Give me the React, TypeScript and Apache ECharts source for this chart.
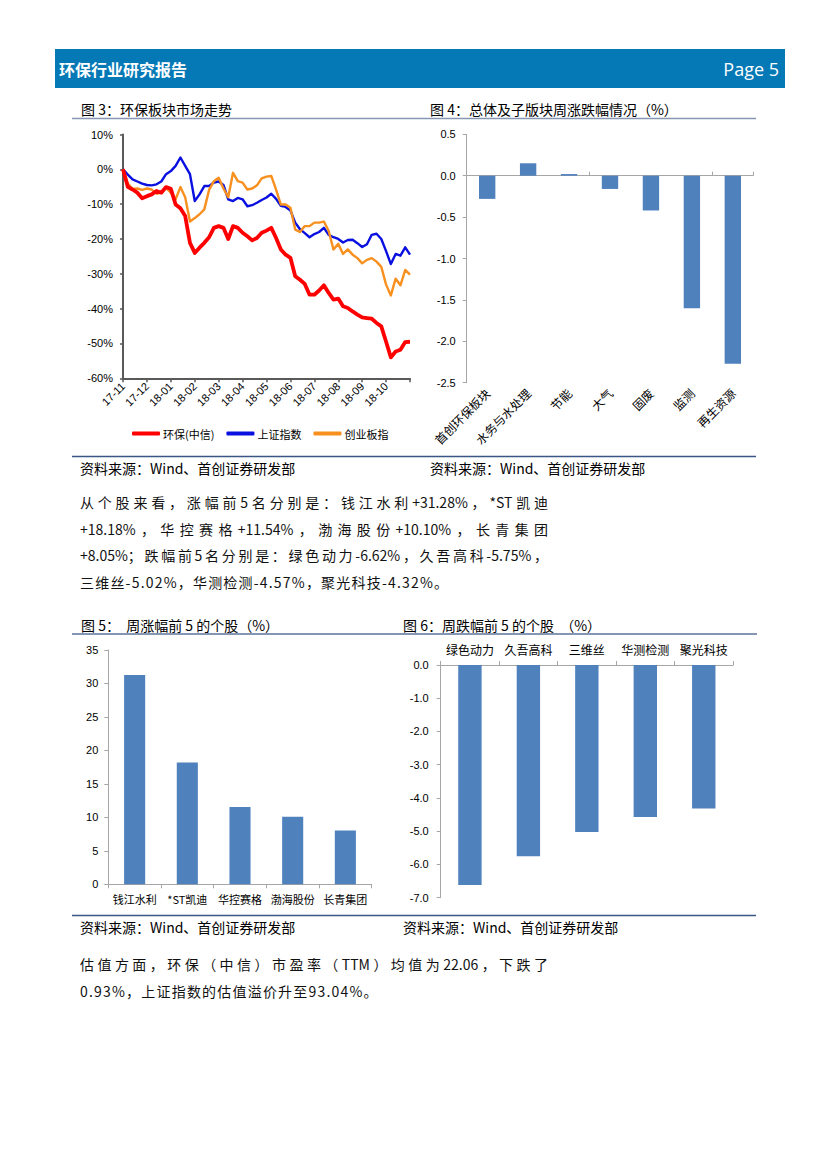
import React, { useEffect, useRef } from "react";
import * as echarts from "echarts";

// ---------- Figure 3: market trend (cumulative %, sampled ~every 6 days) ----------
const monthLabels = ["17-11", "17-12", "18-01", "18-02", "18-03", "18-04", "18-05", "18-06", "18-07", "18-08", "18-09", "18-10", "18-11"];
const sampleDays = ["01", "07", "13", "19", "25"];
const trendDates: string[] = [];
monthLabels.forEach((m, i) => {
  if (i < monthLabels.length - 1) sampleDays.forEach((d) => trendDates.push(`${m}-${d}`));
  else trendDates.push(`${m}-01`);
});

const hbName = "环保(中信)";
const szName = "上证指数";
const cybName = "创业板指";

const hbValues = [
  0, -5.0, -5.8, -6.7, -8.3, -7.7, -7.2, -6.2, -6.7, -5.1,
  -5.6, -10.1, -11.2, -13.4, -21.1, -24.0, -22.5, -21.1, -19.5, -16.8,
  -16.3, -16.8, -20.0, -16.3, -16.8, -18.2, -19.2, -20.4, -19.7, -18.2,
  -17.6, -16.8, -19.7, -23.0, -24.5, -25.4, -30.7, -31.7, -32.9, -36.0,
  -36.0, -34.8, -33.3, -35.5, -37.4, -37.1, -39.3, -39.8, -40.8, -41.7,
  -42.5, -42.7, -42.9, -44.1, -45.1, -49.5, -54.0, -52.3, -51.8, -49.6,
  -49.5,
];
const szValues = [
  0, -1.5, -2.9, -3.5, -4.1, -4.5, -4.6, -4.3, -3.5, -1.4,
  -0.5, 1.0, 3.4, 1.0, -1.4, -9.1, -7.2, -4.8, -4.8, -3.8,
  -3.5, -4.5, -8.6, -9.1, -8.2, -8.6, -10.6, -10.3, -9.6, -8.8,
  -8.1, -7.0, -8.5, -10.5, -10.8, -11.8, -15.3, -17.2, -18.3, -19.5,
  -18.6, -18.0, -16.8, -18.8, -19.5, -20.0, -21.0, -20.3, -20.2, -21.2,
  -22.3, -21.5, -18.8, -18.5, -20.0, -23.5, -27.2, -24.3, -24.8, -22.4,
  -24.5,
];
const cybValues = [
  0, -4.1, -5.6, -5.5, -5.9, -5.5, -5.8, -7.0, -6.7, -5.3,
  -6.7, -8.6, -5.1, -8.0, -15.0, -14.0, -12.9, -11.5, -5.9, -3.4,
  -2.4, -5.5, -8.0, -1.0, -3.4, -3.8, -5.8, -5.5, -4.6, -2.6,
  -2.1, -1.9, -5.8, -10.1, -10.1, -11.0, -17.3, -18.0, -16.3, -16.3,
  -15.3, -15.3, -15.0, -17.7, -23.0, -21.4, -24.3, -23.0, -24.5, -25.5,
  -27.0, -26.0, -25.5, -26.5, -28.0, -33.1, -36.2, -31.4, -33.3, -28.9,
  -30.2,
];

// ---------- Figure 4: weekly change by sub-sector (%) ----------
const sectorNames = ["首创环保板块", "水务与水处理", "节能", "大气", "固废", "监测", "再生资源"];
const sectorChange = [-0.28, 0.15, 0.02, -0.16, -0.42, -1.6, -2.27];

// ---------- Figure 5: top 5 gainers (%) ----------
const gainers = ["钱江水利", "*ST凯迪", "华控赛格", "渤海股份", "长青集团"];
const gainValues = [31.28, 18.18, 11.54, 10.1, 8.05];

// ---------- Figure 6: top 5 losers (%) ----------
const losers = ["绿色动力", "久吾高科", "三维丝", "华测检测", "聚光科技"];
const lossValues = [-6.62, -5.75, -5.02, -4.57, -4.32];

// ---------- Page texts ----------
const headerTitle = "环保行业研究报告";
const pageLabel = "Page 5";
const fig3Title = "图 3：环保板块市场走势";
const fig4Title = "图 4：总体及子版块周涨跌幅情况（%）";
const fig5Title = "图 5：  周涨幅前 5 的个股（%）";
const fig6Title = "图 6：周跌幅前 5 的个股  （%）";
const sourceText = "资料来源：Wind、首创证券研发部";

const para1Lines = [
  "从个股来看，涨幅前5名分别是：钱江水利+31.28%，*ST凯迪",
  "+18.18%，华控赛格+11.54%，渤海股份+10.10%，长青集团",
  "+8.05%；跌幅前5名分别是：绿色动力-6.62%，久吾高科-5.75%，",
  "三维丝-5.02%，华测检测-4.57%，聚光科技-4.32%。",
];
const para2Lines = [
  "估值方面，环保（中信）市盈率（TTM）均值为22.06，下跌了",
  "0.93%，上证指数的估值溢价升至93.04%。",
];

const FONT_CJK = '"Noto Sans CJK SC", "Noto Sans", sans-serif';
const FONT_NUM = '"Liberation Sans", Arial, sans-serif';
const BAR_COLOR = "#4F81BD";
const AXIS_GRAY = "#A6A6A6";
const AXIS_DARK = "#595959";

function txt(x: number, y: number, text: string, size: number, extra: any = {}) {
  return {
    type: "text",
    x,
    y,
    silent: true,
    style: {
      text,
      fill: extra.fill || "#000",
      font: `${extra.weight || "normal"} ${size}px ${extra.family || FONT_CJK}`,
      textAlign: extra.align || "left",
      align: extra.align || "left",
      textVerticalAlign: "middle",
      verticalAlign: "middle",
    },
  };
}
function hline(x1: number, x2: number, y: number, color: string, w: number) {
  return { type: "line", silent: true, shape: { x1, y1: y, x2, y2: y }, style: { stroke: color, lineWidth: w } };
}

const numLabel = { fontFamily: FONT_NUM, fontSize: 11, color: "#000" };

const option: any = {
  animation: false,
  backgroundColor: "#fff",
  grid: [
    { left: 123, top: 134.5, width: 287, height: 243.8, outerBoundsMode: "none" },
    { left: 466.7, top: 134.3, width: 286.6, height: 248.4, outerBoundsMode: "none" },
    { left: 108.3, top: 650, width: 263.4, height: 234.3, outerBoundsMode: "none" },
    { left: 440.7, top: 665, width: 292.3, height: 232.7, outerBoundsMode: "none" },
  ],
  legend: {
    left: 127,
    top: 423,
    icon: "roundRect",
    itemWidth: 28,
    itemHeight: 4,
    itemGap: 12,
    selectedMode: false,
    data: [hbName, szName, cybName],
    textStyle: { fontFamily: FONT_CJK, fontSize: 11, color: "#000", padding: [0, 0, 0, -2] },
  },
  xAxis: [
    {
      type: "category",
      gridIndex: 0,
      data: trendDates,
      boundaryGap: false,
      axisLine: { onZero: false, lineStyle: { color: AXIS_DARK, width: 2 } },
      axisTick: { show: true, interval: (i: number) => i % 5 === 0, length: 4, lineStyle: { color: AXIS_DARK, width: 1.5 } },
      axisLabel: {
        interval: (i: number) => i % 5 === 0 && i < trendDates.length - 1,
        rotate: 45,
        margin: 6,
        formatter: (v: string) => v.slice(0, 5),
        ...numLabel,
      },
      splitLine: { show: false },
    },
    {
      type: "category",
      gridIndex: 1,
      data: sectorNames,
      position: "bottom",
      axisLine: { onZero: true, lineStyle: { color: AXIS_GRAY, width: 1 } },
      axisTick: { show: true, inside: true, length: 4, lineStyle: { color: AXIS_GRAY } },
      axisLabel: { show: false },
      splitLine: { show: false },
    },
    {
      type: "category",
      gridIndex: 1,
      data: sectorNames,
      position: "bottom",
      axisLine: { show: false, onZero: false },
      axisTick: { show: false },
      axisLabel: { rotate: 45, margin: 8, interval: 0, fontFamily: FONT_CJK, fontSize: 12, color: "#000" },
      splitLine: { show: false },
    },
    {
      type: "category",
      gridIndex: 2,
      data: gainers,
      axisLine: { onZero: false, lineStyle: { color: AXIS_GRAY, width: 1 } },
      axisTick: { show: true, length: 4, lineStyle: { color: AXIS_GRAY } },
      axisLabel: { margin: 9, interval: 0, fontFamily: FONT_CJK, fontSize: 11, color: "#000" },
      splitLine: { show: false },
    },
    {
      type: "category",
      gridIndex: 3,
      data: losers,
      position: "top",
      axisLine: { onZero: false, lineStyle: { color: AXIS_GRAY, width: 1 } },
      axisTick: { show: true, length: 4, lineStyle: { color: AXIS_GRAY } },
      axisLabel: { margin: 10, interval: 0, fontFamily: FONT_CJK, fontSize: 12, color: "#000" },
      splitLine: { show: false },
    },
  ],
  yAxis: [
    {
      type: "value",
      gridIndex: 0,
      min: -60,
      max: 10,
      interval: 10,
      axisLine: { show: true, lineStyle: { color: AXIS_DARK, width: 2 } },
      axisTick: { show: true, length: 3, lineStyle: { color: AXIS_DARK, width: 1.5 } },
      splitLine: { show: false },
      axisLabel: { formatter: "{value}%", margin: 10, ...numLabel },
    },
    {
      type: "value",
      gridIndex: 1,
      min: -2.5,
      max: 0.5,
      interval: 0.5,
      axisLine: { show: true, lineStyle: { color: AXIS_GRAY, width: 1 } },
      axisTick: { show: true, length: 4, lineStyle: { color: AXIS_GRAY } },
      splitLine: { show: false },
      axisLabel: { formatter: (v: number) => v.toFixed(1), margin: 11, ...numLabel },
    },
    {
      type: "value",
      gridIndex: 2,
      min: 0,
      max: 35,
      interval: 5,
      axisLine: { show: true, lineStyle: { color: AXIS_GRAY, width: 1 } },
      axisTick: { show: true, length: 4, lineStyle: { color: AXIS_GRAY } },
      splitLine: { show: false },
      axisLabel: { margin: 10, ...numLabel },
    },
    {
      type: "value",
      gridIndex: 3,
      min: -7,
      max: 0,
      interval: 1,
      axisLine: { show: true, lineStyle: { color: AXIS_GRAY, width: 1 } },
      axisTick: { show: true, length: 4, lineStyle: { color: AXIS_GRAY } },
      splitLine: { show: false },
      axisLabel: { formatter: (v: number) => v.toFixed(1), margin: 12, ...numLabel },
    },
  ],
  series: [
    {
      name: szName,
      type: "line",
      xAxisIndex: 0,
      yAxisIndex: 0,
      data: szValues,
      symbol: "none",
      silent: true,
      itemStyle: { color: "#0A10E0" },
      lineStyle: { color: "#0A10E0", width: 2.4, join: "round" },
    },
    {
      name: cybName,
      type: "line",
      xAxisIndex: 0,
      yAxisIndex: 0,
      data: cybValues,
      symbol: "none",
      silent: true,
      itemStyle: { color: "#F7901E" },
      lineStyle: { color: "#F7901E", width: 2.4, join: "round" },
    },
    {
      name: hbName,
      type: "line",
      xAxisIndex: 0,
      yAxisIndex: 0,
      data: hbValues,
      symbol: "none",
      silent: true,
      itemStyle: { color: "#FF0000" },
      lineStyle: { color: "#FF0000", width: 3.8, join: "round" },
    },
    {
      name: "周涨跌幅",
      type: "bar",
      xAxisIndex: 1,
      yAxisIndex: 1,
      data: sectorChange,
      barWidth: "40%",
      silent: true,
      itemStyle: { color: BAR_COLOR },
    },
    {
      name: "周涨幅",
      type: "bar",
      xAxisIndex: 3,
      yAxisIndex: 2,
      data: gainValues,
      barWidth: "40%",
      silent: true,
      itemStyle: { color: BAR_COLOR },
    },
    {
      name: "周跌幅",
      type: "bar",
      xAxisIndex: 4,
      yAxisIndex: 3,
      data: lossValues,
      barWidth: "40%",
      silent: true,
      itemStyle: { color: BAR_COLOR },
    },
  ],
  graphic: [
    { type: "rect", silent: true, shape: { x: 55, y: 49, width: 730, height: 39 }, style: { fill: "#0579B6" } },
    txt(59, 68.5, headerTitle, 16, { fill: "#fff", weight: "bold" }),
    txt(779, 68.5, pageLabel, 18, { fill: "#fff", weight: "500", align: "right", family: '"Open Sans", Lato, sans-serif' }),
    txt(81, 109, fig3Title, 14),
    txt(430, 109, fig4Title, 14),
    hline(72, 756, 118.5, "#8796B4", 1.5),
    hline(72, 756, 456.5, "#3A5684", 1.5),
    txt(80, 468, sourceText, 14),
    txt(430, 468, sourceText, 14),
    txt(81, 625, fig5Title, 14),
    txt(403, 625, fig6Title, 14),
    hline(72, 757, 634, "#5D7398", 1.5),
    hline(72, 756, 915.5, "#3A5684", 1.5),
    txt(80, 927, sourceText, 14),
    txt(403, 927, sourceText, 14),
  ],
};

function ParaLine({ text, cy, width, justify }: { text: string; cy: number; width: number; justify: boolean }) {
  return (
    <div
      style={{
        position: "absolute",
        left: 80,
        top: cy - 10,
        width,
        height: 20,
        lineHeight: "20px",
        fontSize: 14,
        fontFamily: FONT_CJK,
        color: "#111",
        textAlign: justify ? "justify" : "left",
        textAlignLast: justify ? "justify" : "left",
        letterSpacing: justify ? 0 : 1.2,
        whiteSpace: justify ? "normal" : "nowrap",
      } as any}
    >
      {text}
    </div>
  );
}

export default function App() {
  const ref = useRef<HTMLDivElement>(null);
  useEffect(() => {
    if (!ref.current) return;
    const chart = echarts.init(ref.current, null, { renderer: "svg" });
    chart.setOption(option);
    return () => chart.dispose();
  }, []);

  const p1Y = [501.5, 528.5, 555, 581.5];
  const p2Y = [964, 991];
  return (
    <div style={{ position: "absolute", left: 0, top: 0, width: 827, height: 1169, background: "#fff", overflow: "hidden" }}>
      <div ref={ref} style={{ position: "absolute", left: 0, top: 0, width: 827, height: 1169 }} />
      {para1Lines.map((t, i) => (
        <ParaLine key={"p1" + i} text={t} cy={p1Y[i]} width={468} justify={i < 3} />
      ))}
      {para2Lines.map((t, i) => (
        <ParaLine key={"p2" + i} text={t} cy={p2Y[i]} width={468} justify={i < 1} />
      ))}
    </div>
  );
}
